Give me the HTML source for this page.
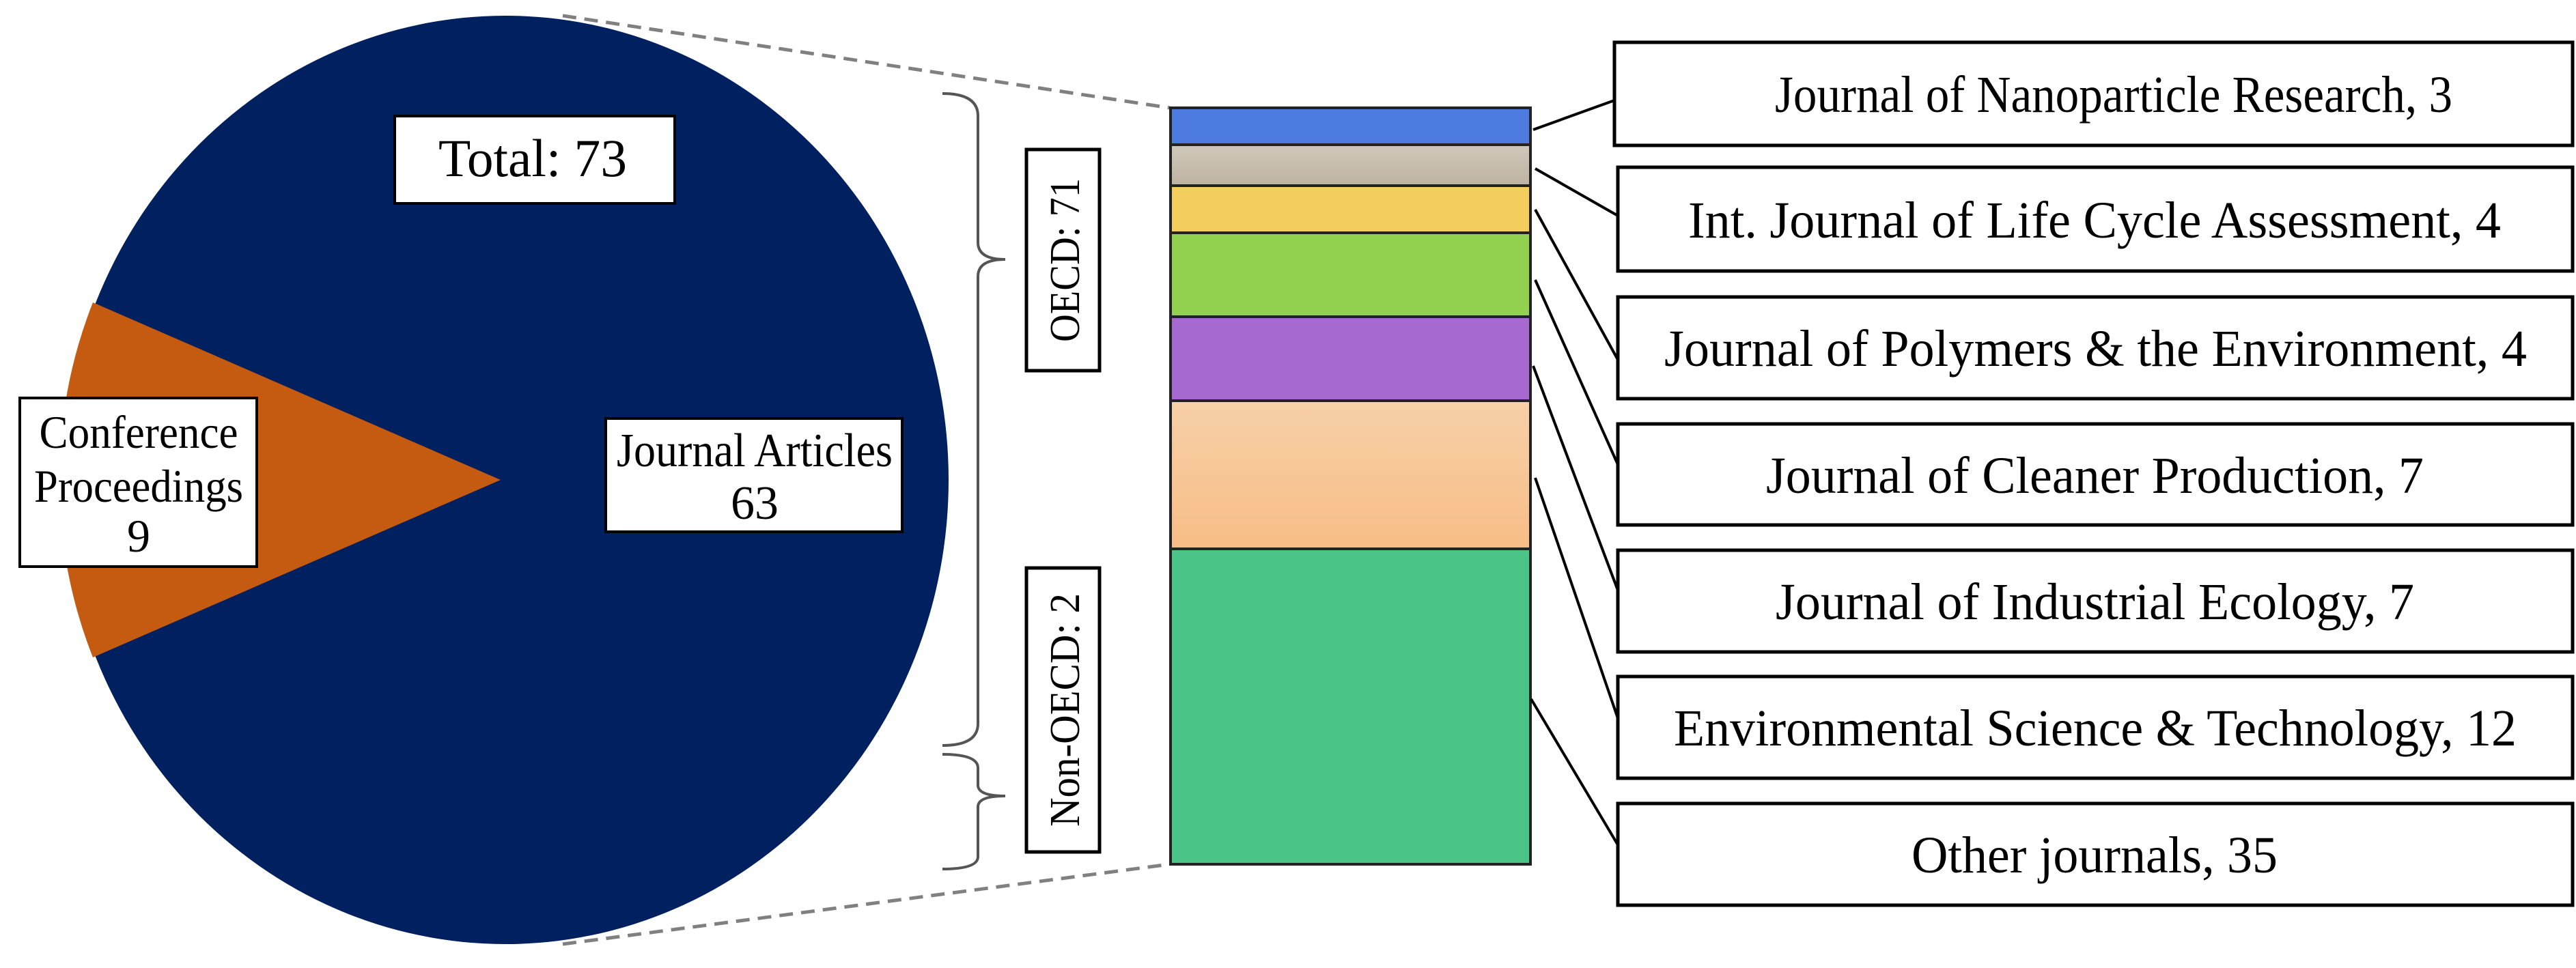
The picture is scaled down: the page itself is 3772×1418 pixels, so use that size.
<!DOCTYPE html>
<html><head><meta charset="utf-8"><style>html,body{margin:0;padding:0;background:#fff}svg{display:block}</style></head>
<body>
<svg width="3772" height="1418" viewBox="0 0 3772 1418" xmlns="http://www.w3.org/2000/svg" font-family="'Liberation Serif', serif">
<defs>
<linearGradient id="g1" x1="0" y1="0" x2="0" y2="1"><stop offset="0" stop-color="#CFC8BA"/><stop offset="1" stop-color="#BDB3A1"/></linearGradient>
<linearGradient id="g2" x1="0" y1="0" x2="0" y2="1"><stop offset="0" stop-color="#F7D0A8"/><stop offset="1" stop-color="#F7BD86"/></linearGradient>
</defs>
<!-- pie -->
<ellipse cx="740" cy="703" rx="649" ry="680" fill="#002060"/>
<path d="M733,703 L136,443 A649,680 0 0,0 136,963 Z" fill="#C55A11"/>
<!-- dashed lines -->
<line x1="824" y1="23" x2="1713" y2="158" stroke="#808080" stroke-width="5" stroke-dasharray="20 12"/>
<line x1="824" y1="1383" x2="1713" y2="1266" stroke="#808080" stroke-width="5" stroke-dasharray="20 12"/>
<!-- pie labels -->
<rect x="578" y="170" width="410" height="128" fill="#fff" stroke="#000" stroke-width="4"/>
<text x="780" y="258" font-size="78" text-anchor="middle" textLength="276" lengthAdjust="spacingAndGlyphs">Total: 73</text>
<rect x="887" y="613" width="434" height="166" fill="#fff" stroke="#000" stroke-width="4"/>
<text x="1105" y="683" font-size="70" text-anchor="middle" textLength="404" lengthAdjust="spacingAndGlyphs">Journal Articles</text>
<text x="1105" y="760" font-size="70" text-anchor="middle">63</text>
<rect x="29" y="583" width="347" height="247" fill="#fff" stroke="#000" stroke-width="4"/>
<text x="203" y="656" font-size="68" text-anchor="middle" textLength="291" lengthAdjust="spacingAndGlyphs">Conference</text>
<text x="203" y="735" font-size="68" text-anchor="middle" textLength="306" lengthAdjust="spacingAndGlyphs">Proceedings</text>
<text x="203" y="808" font-size="68" text-anchor="middle">9</text>
<!-- braces -->
<path d="M1380,137 Q1432,137 1432,170 L1432,355 Q1432,380 1472,380 Q1432,380 1432,405 L1432,1060 Q1432,1092 1380,1092" fill="none" stroke="#555" stroke-width="4"/>
<path d="M1380,1105 Q1432,1105 1432,1125 L1432,1150 Q1432,1166 1472,1166 Q1432,1166 1432,1182 L1432,1255 Q1432,1273 1380,1273" fill="none" stroke="#555" stroke-width="4"/>
<rect x="1503" y="219" width="107" height="324" fill="#fff" stroke="#000" stroke-width="5"/>
<text transform="translate(1580,381) rotate(-90)" font-size="62" text-anchor="middle" textLength="240" lengthAdjust="spacingAndGlyphs">OECD: 71</text>
<rect x="1503" y="832" width="107" height="416" fill="#fff" stroke="#000" stroke-width="5"/>
<text transform="translate(1580,1040) rotate(-90)" font-size="62" text-anchor="middle" textLength="342" lengthAdjust="spacingAndGlyphs">Non-OECD: 2</text>
<!-- bar -->
<g stroke="#222" stroke-width="4">
<rect x="1714" y="158" width="527" height="54" fill="#4D7BE0"/>
<rect x="1714" y="212" width="527" height="60" fill="url(#g1)"/>
<rect x="1714" y="272" width="527" height="69" fill="#F3CD5E"/>
<rect x="1714" y="341" width="527" height="123" fill="#92D050"/>
<rect x="1714" y="464" width="527" height="123" fill="#A569D0"/>
<rect x="1714" y="587" width="527" height="217" fill="url(#g2)"/>
<rect x="1714" y="804" width="527" height="462" fill="#4AC487"/>
</g>
<!-- leaders -->
<g stroke="#000" stroke-width="4">
<line x1="2245" y1="190" x2="2364" y2="147"/>
<line x1="2248" y1="247" x2="2369" y2="316"/>
<line x1="2248" y1="307" x2="2369" y2="527"/>
<line x1="2248" y1="410" x2="2371" y2="685"/>
<line x1="2245" y1="536" x2="2371" y2="870"/>
<line x1="2248" y1="700" x2="2371" y2="1058"/>
<line x1="2242" y1="1024" x2="2371" y2="1241"/>
</g>
<!-- label boxes -->
<g fill="#fff" stroke="#000" stroke-width="5">
<rect x="2364" y="62" width="1403" height="151"/>
<rect x="2369" y="245" width="1398" height="152"/>
<rect x="2369" y="435" width="1398" height="149"/>
<rect x="2369" y="621" width="1398" height="148"/>
<rect x="2369" y="806" width="1398" height="149"/>
<rect x="2369" y="991" width="1398" height="149"/>
<rect x="2369" y="1177" width="1398" height="149"/>
</g>
<g font-size="76">
<text x="2599" y="164" textLength="992" lengthAdjust="spacingAndGlyphs">Journal of Nanoparticle Research, 3</text>
<text x="2472" y="348" textLength="1190" lengthAdjust="spacingAndGlyphs">Int. Journal of Life Cycle Assessment,  4</text>
<text x="2437" y="536" textLength="1263" lengthAdjust="spacingAndGlyphs">Journal of Polymers &amp; the Environment,  4</text>
<text x="2586" y="722" textLength="963" lengthAdjust="spacingAndGlyphs">Journal of Cleaner Production, 7</text>
<text x="2600" y="907" textLength="935" lengthAdjust="spacingAndGlyphs">Journal of Industrial Ecology, 7</text>
<text x="2451" y="1092" textLength="1234" lengthAdjust="spacingAndGlyphs">Environmental  Science &amp; Technology, 12</text>
<text x="2799" y="1278" textLength="536" lengthAdjust="spacingAndGlyphs">Other journals, 35</text>
</g>
</svg>
</body></html>
